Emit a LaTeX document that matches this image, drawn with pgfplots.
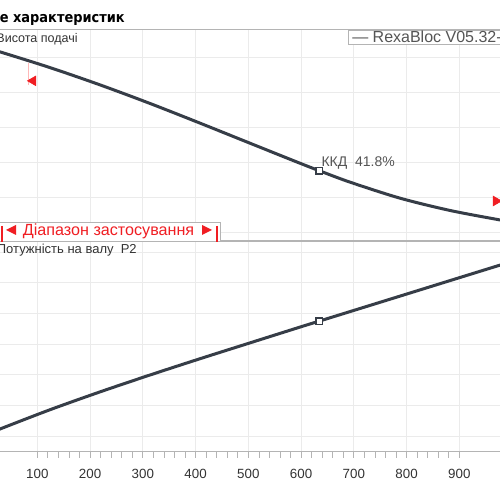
\documentclass[border=0pt]{standalone}
\usepackage{pgfplots}
\pgfplotsset{compat=1.18}
\usepackage{fontspec}
\setmainfont{Liberation Sans}
\newfontfamily\dejavu{DejaVu Sans}
\newfontfamily\dejavucond{DejaVu Sans Condensed}
\definecolor{curve}{HTML}{363D47}
\definecolor{gridc}{HTML}{EBEBEB}
\definecolor{axisc}{HTML}{B4B4B4}
\definecolor{txt}{HTML}{333333}
\definecolor{lbl}{HTML}{555555}
\definecolor{rng}{HTML}{F01E23}
\definecolor{pinkl}{HTML}{FFB8B8}

\pgfplotstableread{
x y
0 6.302
29.19 6.172
124.0 5.720
218.8 5.224
313.6 4.690
408.3 4.126
503.1 3.549
597.9 2.974
634.5 2.759
692.7 2.431
787.5 1.971
882.3 1.618
977.1 1.345
1000 1.287
}\headdata

\pgfplotstableread{
x y
0 1.023
29.19 1.228
124.0 1.856
218.8 2.438
313.6 2.989
408.3 3.519
503.1 4.036
597.9 4.551
634.5 4.746
692.7 5.056
787.5 5.561
882.3 6.067
977.1 6.572
1000 6.693
}\powerdata

\begin{document}
\begin{tikzpicture}
\useasboundingbox (0,0) rectangle (375pt,375pt);
\clip (0,0) rectangle (375pt,375pt);
\fill[white] (0,0) rectangle (375pt,375pt);
\pgfplotsset{
  base/.style={
    scale only axis, width=390pt, height=158.25pt,
    xmin=10.24, xmax=996.0,
    axis line style={axisc, line width=0.75pt},
    grid=major, major grid style={gridc, line width=0.6pt},
    xtick={100,200,...,900},
    yticklabels={},
    ytick style={draw=none},
    anchor=south west,
  }
}
% ---------- top panel: head ----------
\begin{axis}[base, at={(-7.5pt,194.25pt)},
  ymin=0.741, ymax=6.80, ytick={1,...,6},
  xticklabels={}, xtick style={draw=none}]
\addplot[curve, line width=2.25pt, smooth] table[x=x,y=y]{\headdata};
\addplot[pinkl, line width=0.6pt] coordinates {(83.6,5.86) (83.6,5.22)};
\addplot[only marks, mark=triangle*, mark size=4.2pt, mark options={rotate=90, fill=rng, draw=rng}] coordinates {(91.8,5.34)};
\addplot[only marks, mark=triangle*, mark size=4.2pt, mark options={rotate=-90, fill=rng, draw=rng}] coordinates {(969.5,1.89)};
\addplot[only marks, mark=square*, mark size=2.5pt, mark options={fill=white, draw=curve, line width=1.1pt}] coordinates {(634.5,2.759)};
\node[anchor=base west, font=\fontsize{10.5}{12}\selectfont, text=lbl, inner sep=0pt, xshift=1.5pt, yshift=3.5pt] at (axis cs:634.5,2.759) {ККД\ \ 41.8\%};
\end{axis}
% ---------- bottom panel: power ----------
\begin{axis}[base, at={(-7.5pt,36pt)},
  ymin=0.478, ymax=7.358, ytick={1,...,7},
  minor x tick num=4,
  tick align=outside,
  xtick pos=bottom,
  major tick length=4.5pt, minor tick length=4.5pt,
  xtick style={axisc, line width=0.6pt},
  minor tick style={axisc, line width=0.6pt},
  xticklabel style={font=\fontsize{10}{12}\selectfont, text=txt, yshift=-4.7pt},
  /pgf/number format/assume math mode=true]
\addplot[curve, line width=2.25pt, smooth] table[x=x,y=y]{\powerdata};
\addplot[only marks, mark=square*, mark size=2.5pt, mark options={fill=white, draw=curve, line width=1.1pt}] coordinates {(634.5,4.746)};
\end{axis}
% ---------- annotations (pixel coordinates) ----------
\begin{scope}[x=0.75pt, y=-0.75pt, yshift=375pt]
\node[anchor=base east, inner sep=0pt, font=\dejavucond\bfseries\fontsize{10.8}{13}\selectfont, text=black] at (125,22.7) {Поле характеристик};
\node[anchor=base east, inner sep=0pt, font=\fontsize{9.4}{11}\selectfont, text=txt] at (78,43) {Висота подачі};
\draw[axisc, fill=white, line width=0.6pt] (348,30) rectangle (520,44.5);
\node[anchor=base west, inner sep=0pt, font=\fontsize{12}{14}\selectfont, text=lbl] at (352,42.5) {— RexaBloc V05.32-};
\node[anchor=base east, inner sep=0pt, font=\fontsize{9.75}{11}\selectfont, text=txt] at (137,254) {Потужність на валу\ \ P2};
\draw[axisc, fill=white, line width=0.6pt] (-5,222) rectangle (220,241);
\draw[rng, line width=1.3pt] (2,226) -- (2,242);
\draw[rng, line width=1.3pt] (217,226) -- (217,242);
\fill[rng] (6,230) -- (16,225) -- (16,235) -- cycle;
\fill[rng] (212,230) -- (202,225) -- (202,235) -- cycle;
\node[anchor=base west, inner sep=0pt, font=\fontsize{12.1}{14}\selectfont, text=rng] at (22.7,235.5) {Діапазон застосування};
\end{scope}
\end{tikzpicture}
\end{document}
